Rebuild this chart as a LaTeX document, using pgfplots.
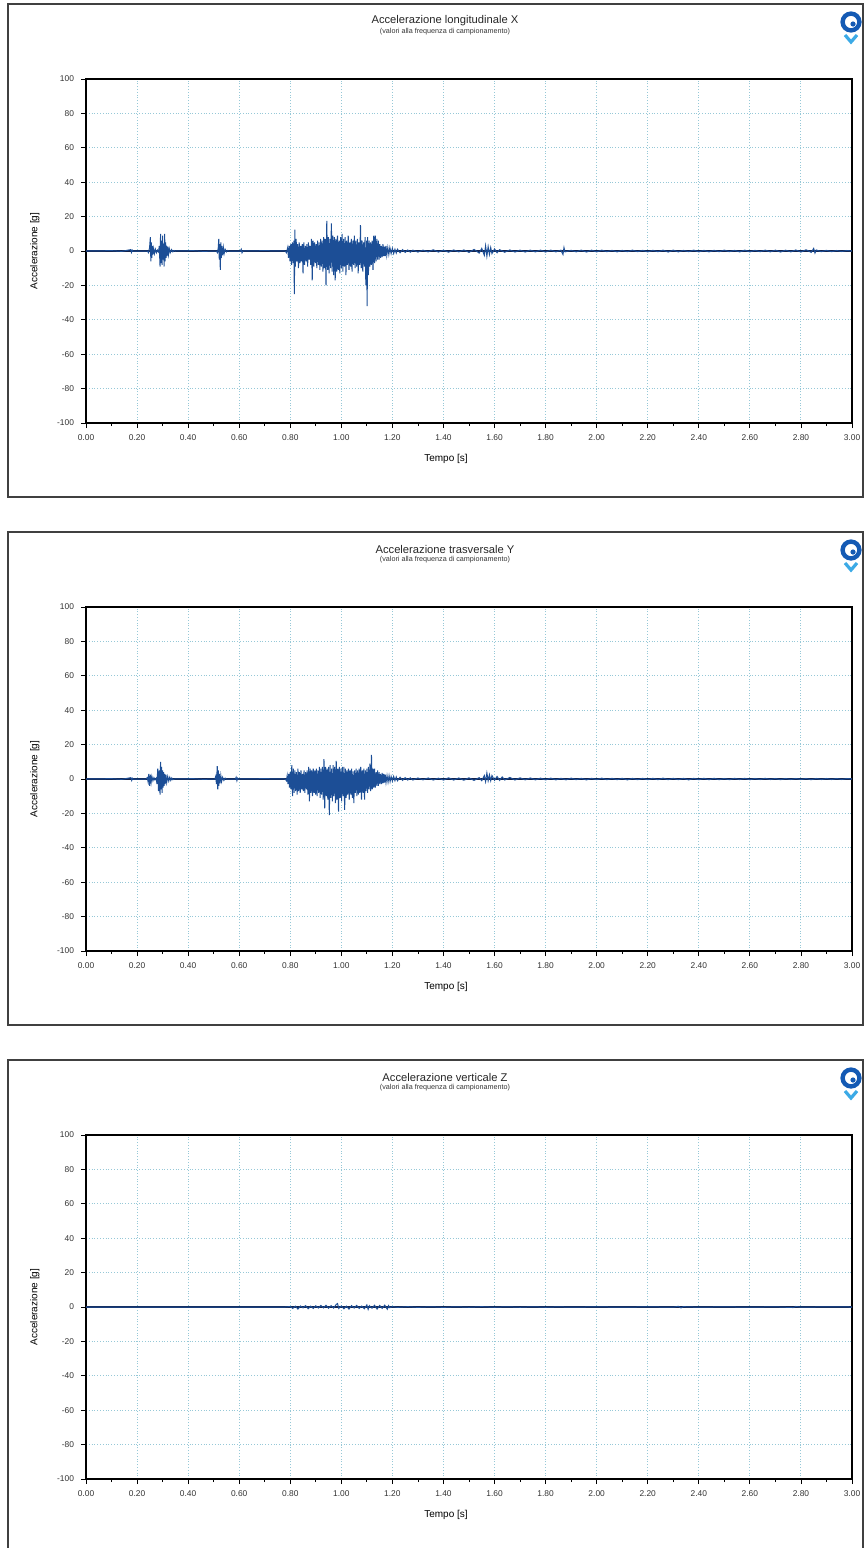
\documentclass[border=0pt]{standalone}
\usepackage{pgfplots}
\pgfplotsset{compat=1.18}
\usepackage{pgfplotstable}
\usepackage{fontspec}
\setmainfont{Liberation Sans}
\definecolor{sig}{RGB}{28,78,150}
\definecolor{base}{RGB}{20,35,75}
\definecolor{gridc}{RGB}{150,200,215}
\definecolor{logob}{RGB}{20,90,180}
\definecolor{logoc}{RGB}{60,170,230}

\pgfplotstableread{
t a
0 0
0.10 0.2
0.14 -0.2
0.175 0.8
0.178 -0.8
0.181 0.5
0.184 0
0.24 0
0.245 -1
0.249 2
0.252 8
0.254 -6
0.256 5
0.258 -4
0.260 3
0.262 -2
0.265 1.5
0.268 -1.5
0.272 1
0.276 -1
0.280 0.5
0.284 -0.5
0.287 3
0.290 -9
0.292 10
0.294 -7
0.296 6
0.298 -8
0.300 9
0.302 -5
0.304 4
0.306 -9
0.308 10
0.310 -6
0.312 5
0.314 -4
0.316 3
0.318 -3
0.320 2.5
0.323 -2
0.326 1.5
0.330 -1
0.335 0.8
0.340 -0.5
0.345 0.3
0.350 0
0.42 0.2
0.46 -0.2
0.510 0
0.515 -1
0.518 2
0.520 7
0.522 -5
0.524 4
0.526 -11
0.528 5
0.530 -4
0.532 3
0.535 -2.5
0.538 2
0.541 -1.5
0.545 1
0.550 -0.5
0.555 0.3
0.560 0
0.605 0
0.608 1
0.611 -1
0.614 0
0.70 0.2
0.78 0
0.785 -1
0.790 2
0.793 -4
0.796 3
0.799 -6
0.802 4
0.805 -8
0.808 5
0.811 -7
0.814 6
0.816 -25
0.818 12.5
0.820 -9
0.823 7
0.826 -6
0.829 4
0.832 -10
0.835 5
0.838 -7
0.841 3
0.844 -6
0.847 4
0.850 -13
0.853 5
0.856 -8
0.859 3
0.862 -6
0.865 4
0.868 -9
0.871 5
0.874 -5
0.877 3
0.880 -8
0.883 7
0.886 -17
0.889 6
0.892 -9
0.895 5
0.898 -7
0.901 4
0.904 -10
0.907 6
0.910 -8
0.913 5
0.916 -11
0.919 7
0.922 -9
0.925 6
0.928 -12
0.931 8
0.934 -10
0.937 7
0.940 -20
0.943 17.5
0.946 -11
0.949 8
0.952 -13
0.955 7
0.958 -10
0.961 16
0.964 -12
0.967 9
0.970 -14
0.973 8
0.976 -17
0.979 7
0.982 -12
0.985 9
0.988 -11
0.991 6
0.994 -13
0.997 8
1.000 -10
1.003 10
1.006 -12
1.009 7
1.012 -9
1.015 8
1.018 -14
1.021 6
1.024 -8
1.027 9
1.030 -11
1.033 5
1.036 -9
1.039 7
1.042 -12
1.045 6
1.048 -8
1.051 9
1.054 -10
1.057 6
1.060 -9
1.063 7
1.066 -13
1.069 5
1.072 -8
1.075 15
1.078 -10
1.081 6
1.084 -12
1.087 5
1.090 -9
1.093 8
1.096 -20
1.099 6
1.101 -32
1.103 8
1.106 -14
1.109 6
1.112 -9
1.115 5
1.118 -8
1.121 6
1.124 -11
1.127 9
1.130 -7
1.133 9
1.136 -6
1.139 7
1.142 -5
1.145 6
1.148 -5
1.151 4
1.154 -4
1.157 3
1.160 -3.5
1.163 4
1.166 -3
1.169 2.5
1.172 -3
1.175 3
1.178 -2.5
1.182 2
1.186 -2
1.190 2
1.195 -1.5
1.200 1.5
1.205 -1.5
1.210 1
1.215 -1.2
1.220 1
1.230 -1
1.240 0.8
1.250 -0.8
1.260 0.6
1.270 -0.7
1.280 0.5
1.300 -0.6
1.320 0.5
1.340 -0.5
1.360 0.7
1.380 -0.6
1.400 0.5
1.420 -0.7
1.440 0.6
1.460 -0.5
1.480 0.6
1.500 -0.8
1.520 0.9
1.540 -1.2
1.550 1.5
1.560 -2.5
1.565 3
1.570 -3
1.575 2.5
1.580 -2
1.585 2
1.590 -1.5
1.600 1.2
1.610 -1
1.620 0.8
1.640 -0.7
1.660 0.6
1.680 -0.6
1.700 0.5
1.720 -0.6
1.740 0.5
1.760 -0.5
1.780 0.5
1.800 -0.6
1.820 0.5
1.840 -0.5
1.860 0.5
1.868 -2
1.872 2
1.876 -0.5
1.900 0.4
1.920 -0.5
1.940 0.5
1.960 -0.6
1.980 0.5
2.000 -0.5
2.020 0.5
2.040 -0.4
2.060 0.4
2.080 -0.5
2.100 0.4
2.120 -0.4
2.140 0.5
2.160 -0.4
2.180 0.4
2.200 -0.5
2.220 0.4
2.240 -0.4
2.260 0.5
2.280 -0.6
2.300 0.5
2.320 -0.5
2.340 0.4
2.360 -0.4
2.380 0.5
2.400 -0.5
2.420 0.4
2.440 -0.5
2.460 0.4
2.480 -0.4
2.500 0.5
2.520 -0.4
2.540 0.4
2.560 -0.5
2.580 0.5
2.600 -0.5
2.620 0.4
2.640 -0.4
2.660 0.5
2.680 -0.5
2.700 0.5
2.720 -0.6
2.740 0.5
2.760 -0.5
2.780 0.6
2.800 -0.6
2.820 0.7
2.840 -0.8
2.850 1.5
2.855 -1.2
2.860 0.6
2.880 -0.4
2.900 0.4
2.920 -0.4
2.940 0.3
2.960 -0.3
2.980 0.3
3.000 0
}\dataX

\pgfplotstableread{
t a
0 0
0.10 0.2
0.14 -0.2
0.176 0.8
0.179 -0.8
0.182 0.4
0.185 0
0.235 0
0.240 0.8
0.243 -1.5
0.246 3
0.249 -4
0.252 2.5
0.255 -2
0.258 1.5
0.262 -1
0.266 0.8
0.270 -0.5
0.275 0.5
0.278 -3
0.281 6
0.284 -7
0.287 5
0.290 -9
0.292 10
0.294 -6
0.296 7
0.298 -8
0.300 5
0.302 -5
0.304 4
0.306 -4
0.308 3
0.310 -3
0.313 2.5
0.316 -2
0.320 1.5
0.324 -1.2
0.328 1
0.332 -0.8
0.336 0.6
0.340 -0.4
0.345 0
0.42 0.2
0.46 -0.2
0.505 0
0.508 1.5
0.511 -3
0.514 7.5
0.516 -6
0.518 5
0.520 -4
0.522 3
0.525 -2.5
0.528 2
0.531 -1.5
0.535 1
0.540 -0.8
0.545 0.5
0.550 0
0.585 0
0.588 1
0.591 -1
0.594 0.5
0.597 0
0.70 0.2
0.780 0
0.785 -1
0.788 2
0.791 -3
0.794 3
0.797 -5
0.800 4
0.803 -6
0.806 8
0.809 -10
0.812 6
0.815 -8
0.818 5
0.821 -7
0.824 4
0.827 -9
0.830 6
0.833 -7
0.836 4
0.839 -8
0.842 5
0.845 -6
0.848 3
0.851 -7
0.854 5
0.857 -8
0.860 4
0.863 -6
0.866 5
0.869 -9
0.872 7
0.875 -13
0.878 6
0.881 -8
0.884 5
0.887 -10
0.890 6
0.893 -8
0.896 5
0.899 -9
0.902 6
0.905 -10
0.908 5
0.911 -8
0.914 7
0.917 -11
0.920 6
0.923 -9
0.926 7
0.929 -12
0.932 11.5
0.935 -17
0.938 7
0.941 -10
0.944 6
0.947 -12
0.950 7
0.953 -21
0.956 8
0.959 -11
0.962 6
0.965 -13
0.968 8
0.971 -10
0.974 7
0.977 -14
0.980 10.5
0.983 -12
0.986 6
0.989 -19
0.992 7
0.995 -11
0.998 6
1.001 -13
1.004 7
1.007 -10
1.010 7
1.013 -18
1.016 6
1.019 -11
1.022 5
1.025 -9
1.028 6
1.031 -12
1.034 5
1.037 -9
1.040 6
1.043 -11
1.046 4.5
1.049 -14
1.052 5
1.055 -8
1.058 6
1.061 -10
1.064 5
1.067 -9
1.070 6
1.073 -8
1.076 7
1.079 -12
1.082 5
1.085 -8
1.088 6
1.091 -12
1.094 5
1.097 -7
1.100 6
1.103 -8
1.106 7
1.109 -6
1.112 9
1.115 -7
1.118 14
1.121 -6
1.124 6
1.127 -5
1.130 6
1.133 -5
1.136 4
1.139 -4
1.142 5
1.145 -4
1.148 4
1.151 -3
1.154 3
1.157 -3
1.160 3.5
1.163 -2.5
1.166 3
1.169 -2
1.172 2.5
1.175 -2
1.179 2
1.183 -1.8
1.187 2
1.191 -1.5
1.195 1.5
1.200 -1.2
1.205 1.5
1.210 -1
1.215 1.2
1.220 -1
1.230 1
1.240 -0.8
1.250 0.8
1.260 -0.6
1.270 0.7
1.280 -0.6
1.300 0.6
1.320 -0.5
1.340 0.6
1.360 -0.6
1.380 0.5
1.400 -0.6
1.420 0.7
1.440 -0.6
1.460 0.6
1.480 -0.7
1.500 0.7
1.520 -0.8
1.540 0.8
1.550 -1
1.560 2
1.565 -1.5
1.570 3.5
1.575 -1
1.580 2.5
1.585 -1
1.590 2
1.600 -0.8
1.610 1.5
1.620 -0.8
1.630 1.2
1.640 -0.6
1.660 0.9
1.680 -0.6
1.700 0.7
1.720 -0.5
1.740 0.6
1.760 -0.5
1.780 0.5
1.800 -0.5
1.820 0.5
1.840 -0.5
1.860 0.4
1.880 -0.5
1.900 0.5
1.920 -0.4
1.940 0.4
1.960 -0.5
1.980 0.4
2.000 -0.4
2.020 0.5
2.040 -0.4
2.060 0.4
2.080 -0.4
2.100 0.4
2.120 -0.5
2.140 0.4
2.160 -0.4
2.180 0.4
2.200 -0.4
2.220 0.4
2.240 -0.4
2.260 0.5
2.280 -0.4
2.300 0.4
2.320 -0.4
2.340 0.4
2.360 -0.5
2.380 0.4
2.400 -0.4
2.420 0.4
2.440 -0.4
2.460 0.4
2.480 -0.4
2.500 0.3
2.520 -0.4
2.540 0.4
2.560 -0.3
2.580 0.4
2.600 -0.4
2.620 0.3
2.640 -0.3
2.660 0.4
2.680 -0.3
2.700 0.3
2.720 -0.4
2.740 0.3
2.760 -0.3
2.780 0.3
2.800 -0.3
2.820 0.3
2.840 -0.4
2.860 0.3
2.880 -0.3
2.900 0.3
2.920 -0.3
2.940 0.3
2.960 -0.3
2.980 0.3
3.000 0
}\dataY

\pgfplotstableread{
t a
0 0
0.78 0
0.800 0.3
0.810 -0.8
0.820 0.5
0.830 -1.2
0.840 0.6
0.850 -0.5
0.860 0.8
0.870 -1
0.880 0.5
0.890 -0.8
0.900 0.7
0.910 -0.6
0.920 0.9
0.930 -0.5
0.940 1
0.950 -0.7
0.960 0.8
0.970 -0.6
0.980 1.5
0.985 2
0.990 -0.8
1.000 0.6
1.010 -1
1.020 0.5
1.030 -1.2
1.040 0.8
1.050 -0.6
1.060 0.9
1.070 -0.8
1.080 0.6
1.090 -1
1.100 1.2
1.105 -1.4
1.110 0.8
1.120 -0.7
1.130 1
1.140 -1.2
1.150 0.9
1.160 -0.8
1.170 1.1
1.180 -1.3
1.185 0.8
1.190 -0.4
1.200 0.2
1.220 -0.2
1.260 0.2
1.300 -0.2
1.350 0.15
1.400 -0.2
1.450 0.15
1.500 -0.15
1.550 0.2
1.600 -0.15
1.650 0.15
1.700 -0.15
1.750 0.15
1.800 -0.15
1.850 0.1
1.900 -0.1
2.000 0.1
2.100 -0.1
2.200 0.1
2.300 -0.1
2.320 0.4
2.330 -0.5
2.340 0.2
2.400 -0.1
2.500 0.1
2.600 -0.1
2.700 0.1
2.770 -0.3
2.780 0.3
2.800 -0.1
2.900 0.1
3.000 0
}\dataZ

\pgfplotsset{
  accstyle/.style={
    at={#1}, anchor=south west,
    scale only axis, width=383pt, height=172pt,
    xmin=0, xmax=3, ymin=-100, ymax=100,
    xtick={0,0.2,...,3.01},
    minor x tick num=1,
    ytick={-100,-80,...,100},
    grid=major,
    major grid style={densely dotted, color=gridc, line width=0.45pt},
    axis line style={line width=0.7pt, black},
    tick style={black, line width=0.4pt},
    major tick length=2.5pt, minor tick length=1.5pt,
    tick pos=left, tick align=outside,
    xticklabel style={font=\fontsize{4.2}{5}\selectfont, color=black!80, /pgf/number format/.cd, fixed, fixed zerofill, precision=2, assume math mode=true},
    yticklabel style={font=\fontsize{4.2}{5}\selectfont, color=black!80, /pgf/number format/assume math mode=true},
    scaled ticks=false,
    xlabel={Tempo [s]},
    ylabel={Accelerazione [g]},
    xlabel style={font=\fontsize{5}{6}\selectfont, at={(axis description cs:0.47,0)}, anchor=north, yshift=-12pt},
    ylabel style={font=\fontsize{5}{6}\selectfont, yshift=2pt},
    clip=true,
  }
}

\newcommand{\panelframe}[3]{%
  \draw[line width=0.9pt, black!75] (4pt,#1) rectangle (431.5pt,{#1-246.5pt});
  \node[font=\fontsize{5.6}{6.5}\selectfont, color=black!85] at (222.5pt,{#1-8.5pt}) {#2};
  \node[font=\fontsize{3.6}{4.5}\selectfont, color=black!80] at (222.5pt,{#1-13.8pt}) {(valori alla frequenza di campionamento)};
  \draw[line width=2.2pt, logob] (425.5pt,{#1-9pt}) circle (4.2pt);
  \fill[logob] (426.5pt,{#1-10pt}) circle (1.3pt);
  \draw[line width=1.6pt, logoc] (422.5pt,{#1-15.5pt}) -- (425.5pt,{#1-19pt}) -- (428.5pt,{#1-15.5pt});
}

\begin{document}
\begin{tikzpicture}
\useasboundingbox (0,0) rectangle (433.5pt,-774pt);
\begin{scope}
\clip (0,0) rectangle (433.5pt,-774pt);
\panelframe{-2pt}{Accelerazione longitudinale X}{}
\panelframe{-266pt}{Accelerazione trasversale Y}{}
\panelframe{-530pt}{Accelerazione verticale Z}{}
\end{scope}

\begin{axis}[accstyle={(43pt,-211.5pt)}]
\addplot[base, line width=0.6pt] coordinates {(0,0) (3,0)};
\addplot[sig, line width=0.5pt] table[x=t, y=a] {\dataX};
\end{axis}

\begin{axis}[accstyle={(43pt,-475.5pt)}]
\addplot[base, line width=0.6pt] coordinates {(0,0) (3,0)};
\addplot[sig, line width=0.5pt] table[x=t, y=a] {\dataY};
\end{axis}

\begin{axis}[accstyle={(43pt,-739.5pt)}]
\addplot[base, line width=0.6pt] coordinates {(0,0) (3,0)};
\addplot[sig, line width=0.5pt] table[x=t, y=a] {\dataZ};
\end{axis}
\end{tikzpicture}
\end{document}
